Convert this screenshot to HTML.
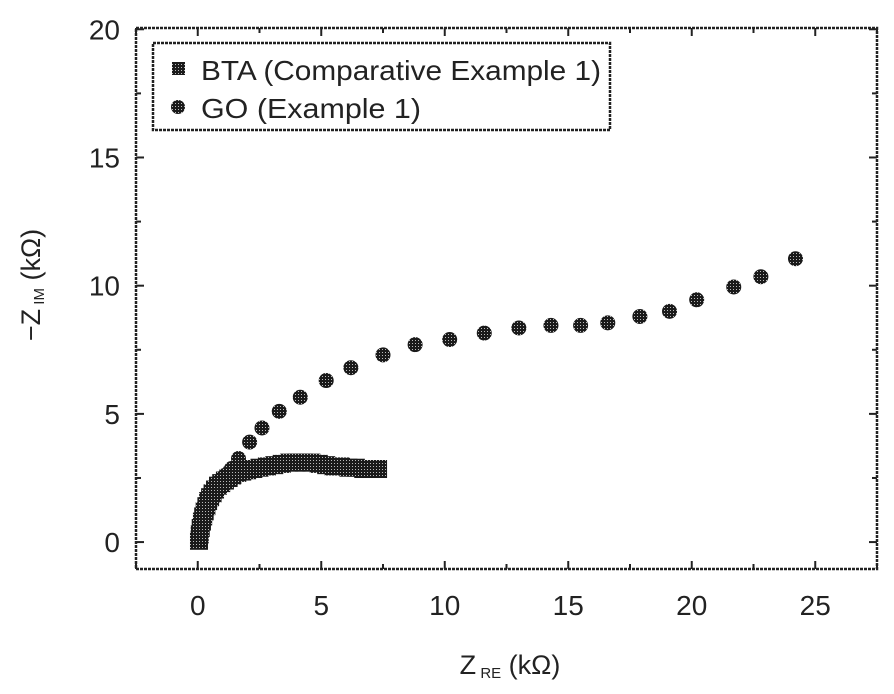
<!DOCTYPE html>
<html><head><meta charset="utf-8"><style>
body{margin:0;background:#fff;}
svg text{font-family:"Liberation Sans",sans-serif;fill:#222;}
</style></head><body>
<svg id="chart" width="894" height="689" viewBox="0 0 894 689" xmlns="http://www.w3.org/2000/svg">
<defs>
<pattern id="dots" width="3" height="3" patternUnits="userSpaceOnUse">
<rect width="3" height="3" fill="#1a1a1a"/><rect x="1" y="1" width="1" height="1" fill="#bbb"/>
</pattern>
</defs>
<g id="plot"></g>
</svg>
<script>
const xTicks=[0,5,10,15,20,25];
const yTicks=[0,5,10,15,20];
const goX=[1.1,1.37,1.65,2.1,2.6,3.3,4.15,5.2,6.2,7.5,8.8,10.2,11.6,13.0,14.3,15.5,16.6,17.9,19.1,20.2,21.7,22.8,24.2];
const goY=[2.6,2.87,3.26,3.9,4.45,5.1,5.65,6.3,6.8,7.3,7.7,7.9,8.15,8.35,8.45,8.45,8.55,8.8,9.0,9.45,9.95,10.35,11.05];
const btaX=[0.05,0.08,0.12,0.17,0.22,0.28,0.35,0.42,0.5,0.6,0.7,0.82,0.95,1.1,1.25,1.4,1.6,1.8,2.0,2.25,2.5,2.8,3.1,3.4,3.7,4.0,4.3,4.6,4.9,5.2,5.5,5.8,6.1,6.4,6.7,7.0,7.3];
const btaY=[0.05,0.3,0.55,0.8,1.0,1.2,1.4,1.6,1.75,1.9,2.05,2.2,2.3,2.4,2.5,2.6,2.7,2.75,2.8,2.85,2.9,2.95,3.0,3.05,3.1,3.1,3.1,3.1,3.05,3.0,2.95,2.95,2.9,2.9,2.85,2.85,2.85];
const L=136,R=877,T=28,B=569;
const xMin=-2.5,xMax=27.5,yMin=-1.05,yMax=20.05;
const sx=v=>L+(v-xMin)/(xMax-xMin)*(R-L);
const sy=v=>B-(v-yMin)/(yMax-yMin)*(B-T);
const NS='http://www.w3.org/2000/svg';
const g=document.getElementById('plot');
function mk(t,a){const e=document.createElementNS(NS,t);for(const k in a)e.setAttribute(k,a[k]);g.appendChild(e);return e;}
let fr=mk('rect',{x:L,y:T,width:R-L,height:B-T,fill:'none',stroke:'#222','stroke-width':2.5,'stroke-dasharray':'3 1'});


for(let v=-2.5;v<=27.5;v+=2.5){const x=sx(v);const maj=xTicks.includes(v);
 let t=mk('line',{x1:x,x2:x,y1:B,y2:B-(maj?8:5),stroke:'#222','stroke-width':2});
 
 let t2=mk('line',{x1:x,x2:x,y1:T,y2:T+(maj?8:5),stroke:'#222','stroke-width':2});
 }
xTicks.forEach(v=>{let e=mk('text',{x:sx(v),y:B+46,'font-size':28,'text-anchor':'middle'});e.textContent=v;
 });
for(let v=0;v<=20;v+=2.5){const y=sy(v);const maj=yTicks.includes(v);
 let t=mk('line',{x1:L,x2:L+(maj?8:5),y1:y,y2:y,stroke:'#222','stroke-width':2});
 
 let t2=mk('line',{x1:R,x2:R-(maj?8:5),y1:y,y2:y,stroke:'#222','stroke-width':2});
 }
yTicks.forEach(v=>{let e=mk('text',{x:L-16,y:sy(v)+10,'font-size':28,'text-anchor':'end'});e.textContent=v;
 });
btaX.forEach((v,i)=>{let e=mk('rect',{x:sx(v)-9,y:sy(btaY[i])-9,width:18,height:18,fill:'url(#dots)'});
 });
goX.forEach((v,i)=>{let e=mk('circle',{cx:sx(v),cy:sy(goY[i]),r:7.5,fill:'url(#dots)'});
 });
let lg=mk('rect',{x:153,y:43,width:457,height:87,fill:'#fff',stroke:'#222','stroke-width':2.5,'stroke-dasharray':'3 1'});

let ls=mk('rect',{x:172,y:62,width:13,height:13,fill:'url(#dots)'});

let lt=mk('text',{x:201,y:80,'font-size':28,textLength:400,lengthAdjust:'spacingAndGlyphs'});lt.textContent='BTA (Comparative Example 1)';

let lc=mk('circle',{cx:178,cy:107,r:7,fill:'url(#dots)'});

let lt2=mk('text',{x:201,y:118,'font-size':28,textLength:220,lengthAdjust:'spacingAndGlyphs'});lt2.textContent='GO (Example 1)';

let xt=mk('text',{x:510,y:674,'font-size':27,'text-anchor':'middle'});
xt.innerHTML='Z<tspan font-size="15" dy="4"> RE</tspan><tspan dy="-4"> (kΩ)</tspan>';

let yt=mk('text',{x:0,y:0,'font-size':27,'text-anchor':'middle',transform:'translate(40,285) rotate(-90)'});
yt.innerHTML='−Z<tspan font-size="15" dy="4"> IM</tspan><tspan dy="-4"> (kΩ)</tspan>';

</script>
</body></html>
